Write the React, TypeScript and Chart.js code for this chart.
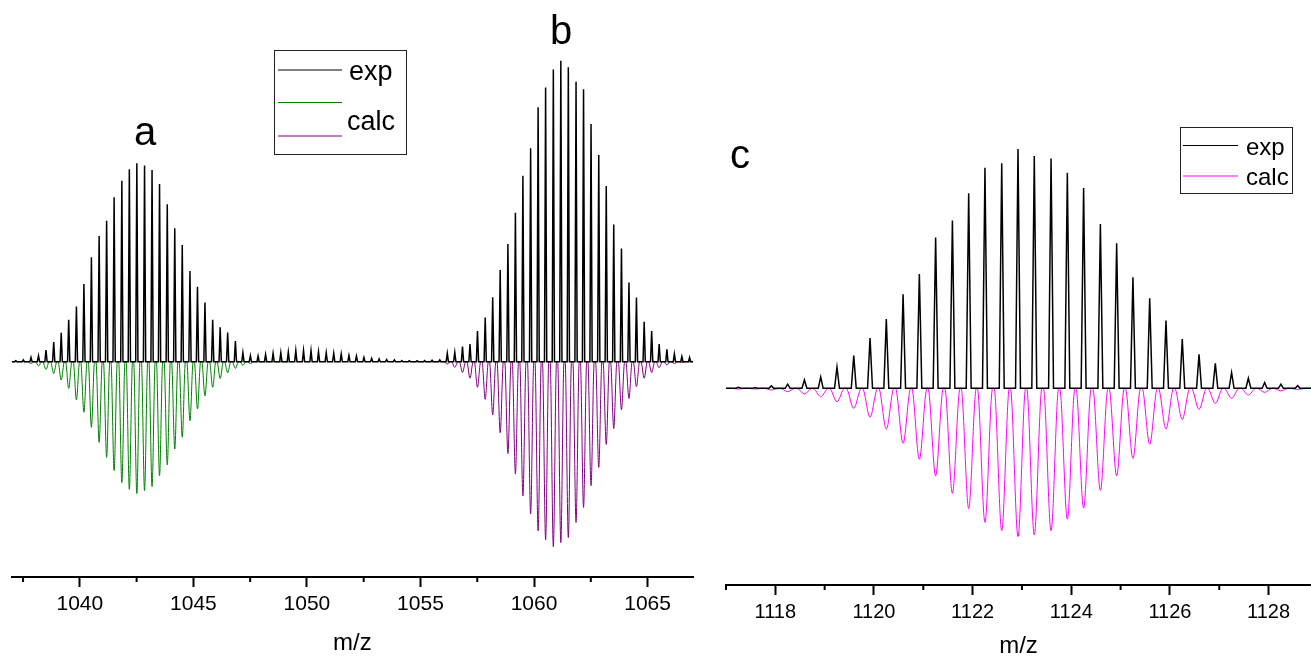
import React, { useEffect, useRef } from 'react';
import { Chart, registerables } from 'chart.js';

Chart.register(...registerables);

const FONT = '"Liberation Sans", Arial, Helvetica, sans-serif';

// ---------- Left panel (a, b) ----------
const leftMin = 1037;
const leftMax = 1067;
const leftMajorTicks = [1040, 1045, 1050, 1055, 1060, 1065];
const leftMinorTicks = [1037.5, 1042.5, 1047.5, 1052.5, 1057.5, 1062.5];

// experimental trace, peak m/z and intensity (% of tallest peak of b)
const expLeftMz = [
  1037.18, 1037.51, 1037.85, 1038.18, 1038.51, 1038.85, 1039.18, 1039.51, 1039.85,
  1040.18, 1040.51, 1040.85, 1041.18, 1041.51, 1041.85, 1042.18, 1042.51, 1042.85,
  1043.18, 1043.51, 1043.85, 1044.18, 1044.51, 1044.85, 1045.18, 1045.51, 1045.85,
  1046.18, 1046.51, 1046.85, 1047.18, 1047.51, 1047.85, 1048.18, 1048.51, 1048.85,
  1049.18, 1049.51, 1049.85, 1050.18, 1050.51, 1050.85, 1051.18, 1051.51, 1051.85,
  1052.18, 1052.51, 1052.85, 1053.18, 1053.51, 1053.85, 1054.18, 1054.51, 1054.85,
  1055.18, 1055.51, 1055.85, 1056.18, 1056.51, 1056.85, 1057.18, 1057.51, 1057.85,
  1058.18, 1058.51, 1058.85, 1059.18, 1059.51, 1059.85, 1060.18, 1060.51, 1060.85,
  1061.18, 1061.51, 1061.85, 1062.18, 1062.51, 1062.85, 1063.18, 1063.51, 1063.85,
  1064.18, 1064.51, 1064.85, 1065.18, 1065.51, 1065.85, 1066.18, 1066.51, 1066.85,
];
const expLeftInt = [
  0.3, 0.6, 1.4, 2.0, 3.9, 6.5, 9.6, 13.9, 18.3,
  25.8, 34.7, 41.8, 46.8, 54.6, 60.1, 63.9, 65.9, 65.2,
  63.7, 59.0, 52.3, 44.3, 38.8, 30.1, 24.9, 19.7, 13.9,
  11.4, 9.7, 6.9, 3.0, 2.0, 1.9, 2.4, 2.8, 3.0,
  3.2, 3.7, 3.7, 3.7, 3.3, 3.0, 2.8, 2.6, 2.1,
  1.9, 1.4, 1.1, 0.9, 0.7, 0.6, 0.4, 0.3, 0.3,
  0.4, 0.5, 0.6, 2.8, 3.1, 5.0, 5.9, 10.2, 14.7,
  21.4, 30.5, 39.1, 49.5, 61.8, 70.9, 84.5, 91.1, 97.1,
  100, 97.8, 93.0, 90.5, 79.0, 68.7, 58.4, 45.6, 37.6,
  26.3, 21.3, 13.3, 10.2, 5.9, 4.1, 2.6, 1.7, 1.4,
];

// calculated pattern a (green), drawn downwards
const calcAMz = [
  1037.85, 1038.18, 1038.51, 1038.85, 1039.18, 1039.51, 1039.85, 1040.18, 1040.51, 1040.85,
  1041.18, 1041.51, 1041.85, 1042.18, 1042.51, 1042.85, 1043.18, 1043.51, 1043.85, 1044.18,
  1044.51, 1044.85, 1045.18, 1045.51, 1045.85, 1046.18, 1046.51, 1046.85, 1047.18, 1047.51,
];
const calcAInt = [
  0.6, 1.4, 2.6, 3.9, 6.1, 8.9, 12.7, 16.8, 21.8, 26.8,
  31.8, 36.2, 40.2, 42.4, 43.8, 42.9, 41.5, 37.9, 34.3, 29.0,
  25.1, 19.6, 15.7, 11.4, 8.5, 5.6, 3.7, 2.2, 1.2, 0.6,
];
const calcARange = [1037, 1049.3];

// calculated pattern b (purple), drawn downwards
const calcBMz = [
  1056.18, 1056.51, 1056.85, 1057.18, 1057.51, 1057.85, 1058.18, 1058.51, 1058.85, 1059.18,
  1059.51, 1059.85, 1060.18, 1060.51, 1060.85, 1061.18, 1061.51, 1061.85, 1062.18, 1062.51,
  1062.85, 1063.18, 1063.51, 1063.85, 1064.18, 1064.51, 1064.85, 1065.18, 1065.51, 1065.85,
  1066.18, 1066.51,
];
const calcBInt = [
  0.8, 1.9, 3.6, 5.5, 8.5, 12.5, 17.7, 23.6, 30.5, 37.3,
  44.6, 50.6, 56.2, 59.2, 61.5, 60.1, 58.4, 53.4, 48.4, 41.2,
  35.1, 27.5, 22.2, 16.0, 12.2, 8.3, 5.5, 3.6, 2.0, 1.1,
  0.6, 0.2,
];
const calcBRange = [1054.6, 1067];

// ---------- Right panel (c) ----------
const rightMin = 1117;
const rightMax = 1128.86;
const rightMajorTicks = [1118, 1120, 1122, 1124, 1126, 1128];
const rightMinorTicks = [1117, 1119, 1121, 1123, 1125, 1127];

const expCMz = [
  1117.25, 1117.59, 1117.92, 1118.25, 1118.59, 1118.92, 1119.25, 1119.59, 1119.92,
  1120.25, 1120.59, 1120.92, 1121.25, 1121.59, 1121.92, 1122.25, 1122.59, 1122.92,
  1123.25, 1123.59, 1123.92, 1124.25, 1124.59, 1124.92, 1125.25, 1125.59, 1125.92,
  1126.25, 1126.59, 1126.92, 1127.25, 1127.59, 1127.92, 1128.25, 1128.59,
];
const expCInt = [
  0.4, 0.3, 1.0, 1.7, 3.5, 4.7, 8.8, 13.7, 21.0,
  29.0, 39.3, 47.8, 63.0, 70.1, 81.5, 92.2, 94.0, 100,
  97.1, 96.0, 90.1, 83.7, 68.7, 60.6, 46.4, 37.6, 28.3,
  20.6, 14.2, 10.4, 6.6, 4.2, 2.4, 1.7, 1.1,
];
const calcCInt = [
  0.3, 0.3, 0.7, 1.4, 2.4, 3.5, 5.6, 8.4, 12.1,
  17.1, 23.0, 29.7, 36.6, 43.9, 50.3, 56.0, 59.5, 62.0,
  61.3, 59.5, 54.7, 50.1, 42.7, 36.6, 29.3, 23.4, 17.1,
  13.0, 8.8, 6.3, 4.2, 2.8, 1.7, 1.1, 0.5,
];

// ---------- helpers ----------
type Pt = { x: number; y: number };

function peakTrace(mz: number[], val: number[], halfWidth: number, sign: number, from: number, to: number): Pt[] {
  const pts: Pt[] = [{ x: from, y: 0 }];
  mz.forEach((m, i) => {
    pts.push({ x: m - halfWidth, y: 0 }, { x: m, y: sign * val[i] }, { x: m + halfWidth, y: 0 });
  });
  pts.push({ x: to, y: 0 });
  return pts;
}

function xAxis(min: number, max: number, majors: number[], labelSize: number, titleTop: number) {
  return {
    type: 'linear' as const,
    min,
    max,
    afterBuildTicks: (scale: any) => {
      scale.ticks = majors.map((v) => ({ value: v }));
    },
    ticks: {
      autoSkip: false,
      maxRotation: 0,
      minRotation: 0,
      padding: 5,
      color: '#000',
      font: { family: FONT, size: labelSize },
      callback: (v: any) => String(v),
    },
    grid: {
      display: true,
      drawOnChartArea: false,
      drawTicks: true,
      tickLength: 10,
      tickColor: '#000',
      tickWidth: 2,
    },
    border: { display: true, color: '#000', width: 2 },
    title: {
      display: true,
      text: 'm/z',
      color: '#000',
      font: { family: FONT, size: 24 },
      padding: { top: titleTop, bottom: 0 },
    },
  };
}

function minorTickPlugin(minor: number[]) {
  return {
    id: 'minorTicks',
    afterDraw(chart: any) {
      const ctx = chart.ctx;
      const xs = chart.scales.x;
      ctx.save();
      ctx.strokeStyle = '#000';
      ctx.lineWidth = 2;
      minor.forEach((v) => {
        const px = xs.getPixelForValue(v);
        ctx.beginPath();
        ctx.moveTo(px, xs.top);
        ctx.lineTo(px, xs.top + 5);
        ctx.stroke();
      });
      ctx.restore();
    },
  };
}

function text(ctx: CanvasRenderingContext2D, s: string, x: number, y: number, size: number, align: CanvasTextAlign = 'left') {
  ctx.font = `${size}px ${FONT}`;
  ctx.fillStyle = '#000';
  ctx.textAlign = align;
  ctx.textBaseline = 'alphabetic';
  ctx.fillText(s, x, y);
}

function line(ctx: CanvasRenderingContext2D, x1: number, x2: number, y: number, color: string) {
  ctx.strokeStyle = color;
  ctx.lineWidth = 1;
  ctx.beginPath();
  ctx.moveTo(x1, y);
  ctx.lineTo(x2, y);
  ctx.stroke();
}

const leftDecor = {
  id: 'leftDecor',
  afterDraw(chart: any) {
    const ctx = chart.ctx as CanvasRenderingContext2D;
    ctx.save();
    text(ctx, 'a', 145, 145, 40, 'center');
    text(ctx, 'b', 561, 44, 40, 'center');
    ctx.strokeStyle = '#222';
    ctx.lineWidth = 1;
    ctx.strokeRect(274.5, 50.5, 132, 104);
    line(ctx, 278, 342, 70, '#000');
    line(ctx, 278, 342, 102.5, '#008000');
    line(ctx, 278, 342, 136, '#800080');
    text(ctx, 'exp', 349, 79.5, 27);
    text(ctx, 'calc', 347, 130, 27);
    ctx.restore();
  },
};

const rightDecor = {
  id: 'rightDecor',
  afterDraw(chart: any) {
    const ctx = chart.ctx as CanvasRenderingContext2D;
    const ox = 711;
    ctx.save();
    text(ctx, 'c', 730 - ox, 168, 40, 'left');
    ctx.strokeStyle = '#222';
    ctx.lineWidth = 1;
    ctx.strokeRect(1180.5 - ox, 127.5, 112, 66);
    line(ctx, 1183 - ox, 1238 - ox, 145.5, '#000');
    line(ctx, 1183 - ox, 1238 - ox, 176, '#ff00ff');
    text(ctx, 'exp', 1246 - ox, 155, 24);
    text(ctx, 'calc', 1246 - ox, 184.5, 24);
    ctx.restore();
  },
};

export default function App() {
  const leftRef = useRef<HTMLCanvasElement>(null);
  const rightRef = useRef<HTMLCanvasElement>(null);

  useEffect(() => {
    const common = {
      animation: false as const,
      responsive: false,
      events: [] as any[],
      plugins: { legend: { display: false }, tooltip: { enabled: false } },
      elements: { point: { radius: 0 } },
    };

    const left = new Chart(leftRef.current!, {
      type: 'line',
      data: {
        datasets: [
          {
            label: 'exp',
            data: peakTrace(expLeftMz, expLeftInt, 0.05, 1, leftMin, leftMax),
            borderColor: '#000000',
            borderWidth: 1.5,
            pointRadius: 0,
            tension: 0,
          },
          {
            label: 'calc a',
            data: peakTrace(calcAMz, calcAInt, 0.14, -1, calcARange[0], calcARange[1]),
            borderColor: '#008000',
            borderWidth: 1,
            pointRadius: 0,
            cubicInterpolationMode: 'monotone',
          },
          {
            label: 'calc b',
            data: peakTrace(calcBMz, calcBInt, 0.14, -1, calcBRange[0], calcBRange[1]),
            borderColor: '#800080',
            borderWidth: 1,
            pointRadius: 0,
            cubicInterpolationMode: 'monotone',
          },
        ],
      },
      options: {
        ...common,
        layout: { autoPadding: false, padding: { left: 11.7, right: 18, top: 0, bottom: 22.6 } },
        scales: {
          x: xAxis(leftMin, leftMax, leftMajorTicks, 21, 6.4) as any,
          y: { display: false, min: -71.53, max: 120.17 },
        },
      } as any,
      plugins: [minorTickPlugin(leftMinorTicks), leftDecor],
    });

    const right = new Chart(rightRef.current!, {
      type: 'line',
      data: {
        datasets: [
          {
            label: 'exp',
            data: peakTrace(expCMz, expCInt, 0.05, 1, rightMin, rightMax),
            borderColor: '#000000',
            borderWidth: 1.5,
            pointRadius: 0,
            tension: 0,
          },
          {
            label: 'calc',
            data: peakTrace(expCMz, calcCInt, 0.155, -1, rightMin, rightMax),
            borderColor: '#ff00ff',
            borderWidth: 1,
            pointRadius: 0,
            cubicInterpolationMode: 'monotone',
          },
        ],
      },
      options: {
        ...common,
        layout: { autoPadding: false, padding: { left: 15, right: 0, top: 0, bottom: 19.6 } },
        scales: {
          x: xAxis(rightMin, rightMax, rightMajorTicks, 20, 2.6) as any,
          y: { display: false, min: -82.2, max: 162.27 },
        },
      } as any,
      plugins: [minorTickPlugin(rightMinorTicks), rightDecor],
    });

    return () => {
      left.destroy();
      right.destroy();
    };
  }, []);

  return (
    <div
      style={{
        position: 'fixed',
        left: 0,
        top: 0,
        width: 1311,
        height: 658,
        overflow: 'hidden',
        background: '#ffffff',
      }}
    >
      <canvas ref={leftRef} width={711} height={680} style={{ position: 'absolute', left: 0, top: 0 }} />
      <canvas ref={rightRef} width={600} height={680} style={{ position: 'absolute', left: 711, top: 0 }} />
    </div>
  );
}
